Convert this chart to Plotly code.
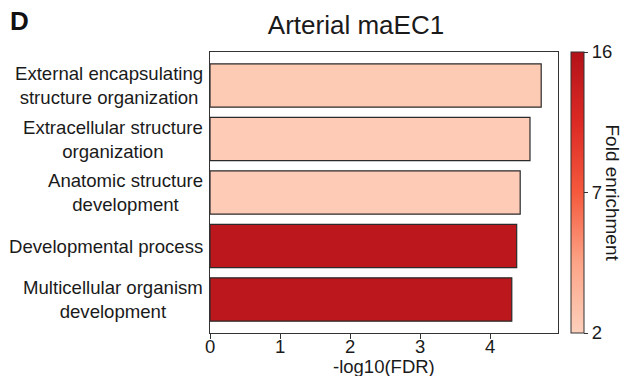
import plotly.graph_objects as go

terms = [
    "External encapsulating<br>structure organization",
    "Extracellular structure<br>organization",
    "Anatomic structure<br>development",
    "Developmental process",
    "Multicellular organism<br>development",
]
neg_log10_fdr = [4.73, 4.57, 4.43, 4.38, 4.31]
fold_enrichment = [2.5, 2.4, 2.4, 15.2, 15.2]

x_ticks = [0, 1, 2, 3, 4]
cbar_tickvals = [2, 9, 16]
cbar_ticktext = ["2", "7", "16"]

FONT = "Liberation Sans, Arial, sans-serif"
TXT = "#1a1a1a"

colorscale = [
    [0.0, "#fdd0bc"],
    [0.25, "#fca487"],
    [0.5, "#f5593d"],
    [0.75, "#dc2a25"],
    [1.0, "#b31219"],
]

fig = go.Figure()
fig.add_trace(go.Bar(
    x=neg_log10_fdr,
    y=terms,
    orientation="h",
    width=0.81,
    marker=dict(
        color=fold_enrichment,
        colorscale=colorscale,
        cmin=2, cmax=16,
        line=dict(color="#2b2b2b", width=1.2),
        showscale=True,
        colorbar=dict(
            x=1.037, xanchor="left", xpad=0,
            y=0.5, yanchor="middle", len=1, lenmode="fraction", ypad=0,
            thickness=13, thicknessmode="pixels",
            outlinewidth=1, outlinecolor="#333333",
            tickvals=cbar_tickvals, ticktext=cbar_ticktext,
            ticks="outside", ticklen=4, tickcolor="#333333",
            tickfont=dict(family=FONT, size=18.5, color=TXT),
        ),
    ),
    hoverinfo="skip",
))

fig.update_layout(
    width=622, height=376,
    margin=dict(l=210, r=64, t=52, b=43, autoexpand=False),
    paper_bgcolor="white", plot_bgcolor="white",
    font=dict(family=FONT, size=18, color=TXT),
    showlegend=False,
    title=dict(
        text="Arterial maEC1",
        x=356 / 622, xref="container", xanchor="center",
        y=1 - 25 / 376, yref="container", yanchor="middle",
        font=dict(family=FONT, size=26, color=TXT),
    ),
    xaxis=dict(
        range=[0, 4.97],
        tickvals=x_ticks,
        ticks="outside", ticklen=5, tickcolor="#333333",
        showline=True, linecolor="#333333", linewidth=1.2, mirror=True,
        showgrid=False, zeroline=False, automargin=False,
        showticklabels=False,
    ),
    yaxis=dict(
        categoryorder="array", categoryarray=terms,
        range=[4.626, -0.626],
        showline=True, linecolor="#333333", linewidth=1.2, mirror=True,
        ticks="", showgrid=False, zeroline=False, automargin=False,
        showticklabels=False,
    ),
)

# x tick labels placed close under the ticks
for v in x_ticks:
    fig.add_annotation(
        text=str(v), xref="x", yref="paper", x=v, y=-(346 - 333) / 281,
        xanchor="center", yanchor="middle", showarrow=False,
        font=dict(family=FONT, size=18.5, color=TXT),
    )

# centred multi-line category labels
for t in terms:
    fig.add_annotation(
        text=t, xref="paper", yref="y", x=-5 / 348, y=t,
        xanchor="right", yanchor="middle", align="center", showarrow=False,
        font=dict(family=FONT, size=18.6, color=TXT),
    )

fig.add_annotation(
    text="-log10(FDR)", xref="paper", yref="paper",
    x=(384 - 210) / 348, y=-(366 - 333) / 281,
    xanchor="center", yanchor="middle", showarrow=False,
    font=dict(family=FONT, size=18.5, color=TXT),
)
fig.add_annotation(
    text="<b>D</b>", xref="paper", yref="paper",
    x=(20 - 210) / 348, y=1 + (52 - 21) / 281,
    xanchor="center", yanchor="middle", showarrow=False,
    font=dict(family=FONT, size=26, color="#111111"),
)
fig.add_annotation(
    text="Fold enrichment", xref="paper", yref="paper",
    x=(612 - 210) / 348, y=0.5, textangle=90,
    xanchor="center", yanchor="middle", showarrow=False,
    font=dict(family=FONT, size=19, color=TXT),
)

fig.write_html("out.html")
